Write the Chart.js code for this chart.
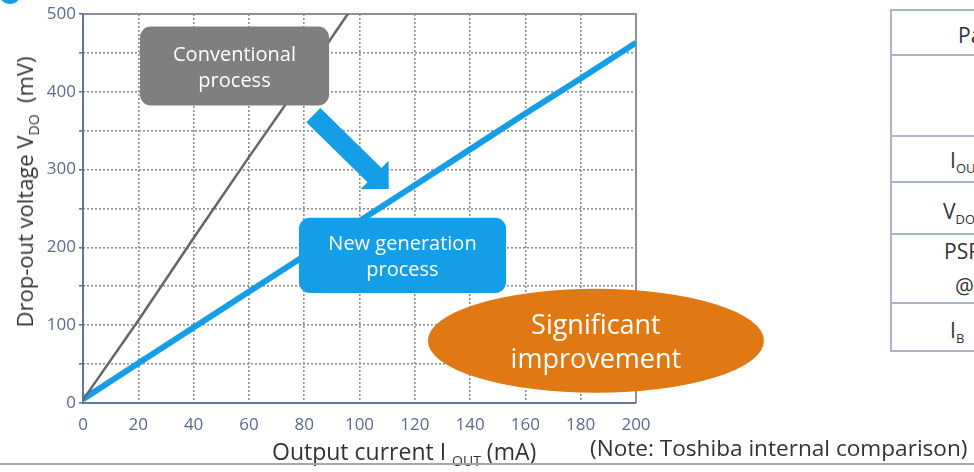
<!DOCTYPE html>
<html>
<head>
<meta charset="utf-8">
<script src="https://cdn.jsdelivr.net/npm/chart.js@4.4.1/dist/chart.umd.min.js"></script>
<style>
  html, body { margin: 0; padding: 0; background: #fff; overflow: hidden; width: 974px; height: 472px; }
  body { position: relative; font-family: "Open Sans", "Noto Sans", sans-serif; color: #333; }
  #wrap { position: absolute; left: 0; top: 0; width: 800px; height: 472px; }
  .ytitle {
    position: absolute; left: 24px; top: 192px; white-space: nowrap;
    transform: translate(-50%, -50%) rotate(-90deg); font-size: 22px; color: #333;
  }
  .xtitle { position: absolute; left: 272px; top: 437px; font-size: 23px; white-space: nowrap; color: #333; line-height: 28px; }
  sub { font-size: 14px; vertical-align: -6px; line-height: 0; }
  .note { position: absolute; left: 590px; top: 434px; font-size: 22.6px; white-space: nowrap; color: #333; line-height: 28px; }
  .rule { position: absolute; left: 0; top: 463px; width: 974px; height: 2px; background: #a6a6a6; }
  .dot { position: absolute; left: -1px; top: -18px; width: 22px; height: 22px; border-radius: 50%; background: #1a9be6; }
  .tbl { position: absolute; left: 890px; top: 9px; width: 300px; height: 339px; border: 2px solid #a9b5c8; border-right: none; }
  .row { position: absolute; left: 0; width: 300px; border-bottom: 2px solid #a9b5c8; }
  .cell { position: absolute; white-space: nowrap; font-size: 21px; color: #333; line-height: 26px; }
  .cell sub { font-size: 13px; vertical-align: -5px; }
</style>
</head>
<body>
<div class="dot"></div>
<div id="wrap"><canvas id="c" width="800" height="472"></canvas></div>
<div class="ytitle">Drop-out voltage V<sub>DO</sub>&nbsp; (mV)</div>
<div class="xtitle">Output current I <sub>OUT</sub> (mA)</div>
<div class="note">(Note: Toshiba internal comparison)</div>
<div class="rule"></div>

<div class="tbl">
  <div class="row" style="top:0;height:43px"></div>
  <div class="row" style="top:45px;height:79px"></div>
  <div class="row" style="top:126px;height:44px"></div>
  <div class="row" style="top:172px;height:50px"></div>
  <div class="row" style="top:224px;height:67px;"></div>
  <div class="cell" style="left:66px;top:11px">Parameter</div>
  <div class="cell" style="left:58px;top:136px">I<sub>OUT</sub></div>
  <div class="cell" style="left:51px;top:187px">V<sub>DO</sub></div>
  <div class="cell" style="left:52px;top:227px">PSRR</div>
  <div class="cell" style="left:63px;top:262px">@1kHz</div>
  <div class="cell" style="left:58px;top:306px">I<sub>B</sub></div>
</div>

<script>
// Output current sample points (mA)
const currentMA = [0, 20, 40, 60, 80, 100];
// Drop-out voltage of the conventional process (mV)
const conventionalMV = [4, 106, 212, 316, 418, 522];

const currentNewMA = [0, 20, 40, 60, 80, 100, 120, 140, 160, 180, 200];
// Drop-out voltage of the new generation process (mV)
const newGenMV = [5, 51, 97, 143, 189, 234, 280, 326, 372, 417, 463];

// Axis tick labels
const xTickLabels = [0, 20, 40, 60, 80, 100, 120, 140, 160, 180, 200];
const yTickLabels = [0, 100, 200, 300, 400, 500];

const toPoints = (xs, ys) => xs.map((x, i) => ({ x, y: ys[i] }));
const FONT = '"Open Sans", "Noto Sans", sans-serif';

// Plot frame: slate-blue left/bottom, grey top/right
const framePlugin = {
  id: 'frame',
  beforeDatasetsDraw(chart) {
    const { ctx, chartArea: a } = chart;
    ctx.save();
    ctx.lineWidth = 2;
    ctx.strokeStyle = '#8c9099';
    ctx.beginPath();
    ctx.moveTo(a.left, a.top); ctx.lineTo(a.right, a.top); ctx.lineTo(a.right, a.bottom);
    ctx.stroke();
    ctx.strokeStyle = '#66739a';
    ctx.beginPath();
    ctx.moveTo(a.left, a.top); ctx.lineTo(a.left, a.bottom); ctx.lineTo(a.right, a.bottom);
    ctx.stroke();
    ctx.restore();
  }
};

// Callouts anchored in data units (mA, mV)
const callouts = {
  conventional: { x0: 20.6, x1: 89, y0: 484, y1: 382.5, fill: '#7f7f7f', lines: ['Conventional', 'process'], size: 20 },
  newGen: { x0: 78.1, x1: 153, y0: 238, y1: 141.5, fill: '#149ee8', lines: ['New generation', 'process'], size: 20 },
  arrow: { x0: 83.3, y0: 370, x1: 110.6, y1: 275 },
  ellipse: { cx: 185.5, cy: 80, lines: ['Significant', 'improvement'] }
};

function roundRect(ctx, x, y, w, h, r) {
  ctx.beginPath();
  ctx.moveTo(x + r, y);
  ctx.arcTo(x + w, y, x + w, y + h, r);
  ctx.arcTo(x + w, y + h, x, y + h, r);
  ctx.arcTo(x, y + h, x, y, r);
  ctx.arcTo(x, y, x + w, y, r);
  ctx.closePath();
}

const calloutPlugin = {
  id: 'callouts',
  afterDatasetsDraw(chart) {
    const { ctx } = chart;
    const sx = chart.scales.x, sy = chart.scales.y;
    const px = v => sx.getPixelForValue(v), py = v => sy.getPixelForValue(v);
    ctx.save();

    // Rounded label boxes
    [callouts.conventional, callouts.newGen].forEach(b => {
      const x = px(b.x0), y = py(b.y0), w = px(b.x1) - x, h = py(b.y1) - y;
      ctx.fillStyle = b.fill;
      roundRect(ctx, x, y, w, h, 11);
      ctx.fill();
      ctx.fillStyle = '#ffffff';
      ctx.font = b.size + 'px ' + FONT;
      ctx.textAlign = 'center';
      ctx.textBaseline = 'middle';
      const cx = x + w / 2, cy = y + h / 2;
      ctx.fillText(b.lines[0], cx, cy - 11);
      ctx.fillText(b.lines[1], cx, cy + 15);
    });

    // Arrow pointing from the conventional curve to the new one
    const a = callouts.arrow;
    const tx = px(a.x0), ty = py(a.y0), hx = px(a.x1), hy = py(a.y1);
    const ang = Math.atan2(hy - ty, hx - tx);
    const len = Math.hypot(hx - tx, hy - ty);
    ctx.translate(tx, ty);
    ctx.rotate(ang);
    const shaft = 10, head = 20, headLen = 20;
    ctx.fillStyle = '#149ee8';
    ctx.beginPath();
    ctx.moveTo(0, -shaft);
    ctx.lineTo(len - headLen, -shaft);
    ctx.lineTo(len - headLen, -head);
    ctx.lineTo(len, 0);
    ctx.lineTo(len - headLen, head);
    ctx.lineTo(len - headLen, shaft);
    ctx.lineTo(0, shaft);
    ctx.closePath();
    ctx.fill();
    ctx.setTransform(1, 0, 0, 1, 0, 0);

    // Orange ellipse
    const e = callouts.ellipse;
    const ex = px(e.cx), ey = py(e.cy);
    ctx.fillStyle = '#e07814';
    ctx.beginPath();
    ctx.ellipse(ex, ey, 168, 52, 0, 0, Math.PI * 2);
    ctx.fill();
    ctx.fillStyle = '#ffffff';
    ctx.font = '27px ' + FONT;
    ctx.textAlign = 'center';
    ctx.textBaseline = 'middle';
    ctx.fillText(e.lines[0], ex, ey - 14);
    ctx.fillText(e.lines[1], ex, ey + 20);

    ctx.restore();
  }
};

new Chart(document.getElementById('c'), {
  type: 'line',
  data: {
    datasets: [
      {
        label: 'Conventional process',
        data: toPoints(currentMA, conventionalMV),
        borderColor: '#666666',
        borderWidth: 2.5,
        pointRadius: 0,
        tension: 0
      },
      {
        label: 'New generation process',
        data: toPoints(currentNewMA, newGenMV),
        borderColor: '#149ee8',
        borderWidth: 6,
        pointRadius: 0,
        tension: 0
      }
    ]
  },
  options: {
    responsive: false,
    animation: false,
    devicePixelRatio: 1,
    layout: { padding: { top: 14, right: 164, left: 0, bottom: 0 } },
    plugins: { legend: { display: false }, tooltip: { enabled: false } },
    scales: {
      x: {
        type: 'linear',
        min: 0, max: 200,
        border: { display: false, dash: [2, 2] },
        grid: {
          color: '#8f8f8f', lineWidth: 1.6,
          tickLength: 4, drawTicks: false
        },
        ticks: {
          stepSize: 20, padding: 12, color: '#5b6a92',
          font: { family: FONT, size: 17 },
          callback: v => xTickLabels.includes(v) ? String(v) : ''
        },
        afterFit(scale) { scale.height = 69; }
      },
      y: {
        type: 'linear',
        min: 0, max: 500,
        border: { display: false, dash: [2, 2] },
        grid: {
          color: '#8f8f8f', lineWidth: 1.6,
          tickLength: 4, tickColor: '#66739a', tickBorderDash: []
        },
        ticks: {
          stepSize: 50, padding: 3, color: '#5b6a92',
          font: { family: FONT, size: 17 },
          callback: v => yTickLabels.includes(v) ? String(v) : ''
        },
        afterFit(scale) { scale.width = 83; }
      }
    }
  },
  plugins: [framePlugin, calloutPlugin]
});
</script>
</body>
</html>
